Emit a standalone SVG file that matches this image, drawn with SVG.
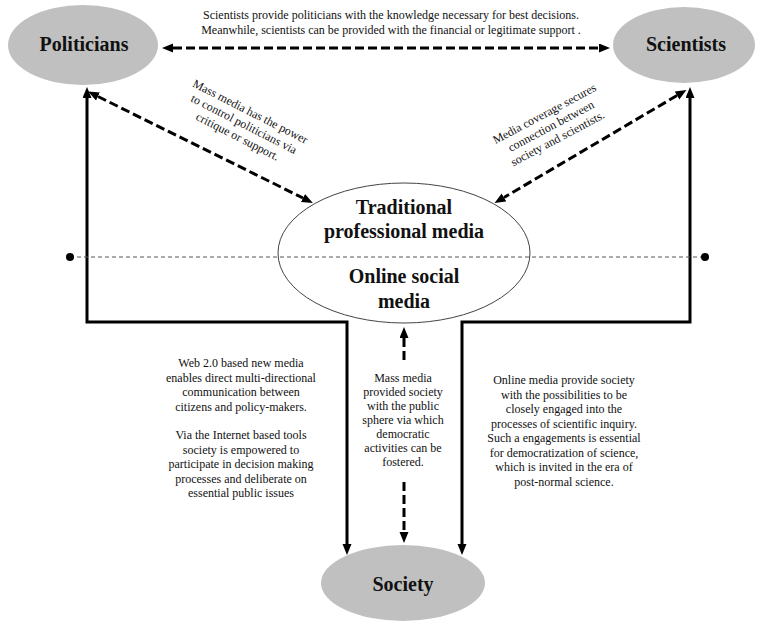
<svg xmlns="http://www.w3.org/2000/svg" width="757" height="621" viewBox="0 0 757 621">
  <style>
    .actor { fill: #c0c0c0; stroke: none; }
    .hub { fill: #ffffff; stroke: #444444; stroke-width: 1; }
    .title { font-weight: bold; font-size: 20px; fill: #111111; text-anchor: middle; }
    .note { font-size: 12px; fill: #111111; text-anchor: middle; }
    .solid { fill: none; stroke: #000000; stroke-width: 3; }
    .dash { fill: none; stroke: #000000; stroke-width: 3; stroke-dasharray: 9 4; }
    .divider { fill: none; stroke: #555555; stroke-width: 1; stroke-dasharray: 4 3; }
  </style>
  <defs>
    <marker id="head" markerUnits="userSpaceOnUse" markerWidth="12" markerHeight="10" refX="0" refY="4.5" orient="auto-start-reverse">
      <path d="M0,0 L11,4.5 L0,9 z" fill="#000000"/>
    </marker>
  </defs>

  <rect width="757" height="621" fill="#ffffff"/>

  <!-- connectors -->
  <g id="connectors">
    <path class="solid" d="M87,98 V322 H347 V544" marker-start="url(#head)" marker-end="url(#head)"/>
    <path class="solid" d="M690,98 V322 H462 V544" marker-start="url(#head)" marker-end="url(#head)"/>
    <path class="dash" d="M173,48 H599" marker-start="url(#head)" marker-end="url(#head)"/>
    <path class="dash" d="M98,96.5 L303,198" marker-start="url(#head)" marker-end="url(#head)"/>
    <path class="dash" d="M677,95.5 L504,197.5" marker-start="url(#head)" marker-end="url(#head)"/>
    <path class="dash" d="M404,360 V338" marker-end="url(#head)"/>
    <path class="dash" d="M404,482 V532" marker-end="url(#head)"/>
  </g>

  <g font-family="Liberation Serif, Times New Roman, DejaVu Serif, serif">
  <!-- top note -->
  <g id="note-top">
    <text class="note" x="391" y="19">Scientists provide politicians  with the knowledge necessary for best decisions.</text>
    <text class="note" x="391" y="34">Meanwhile, scientists can be provided with the financial or legitimate  support .</text>
  </g>

  <g id="note-politicians-media" transform="translate(244,124) rotate(27)">
    <text class="note" x="0" y="-10">Mass media has the power</text>
    <text class="note" x="0" y="4">to control  politicians  via</text>
    <text class="note" x="0" y="18">critique or support.</text>
  </g>

  <g id="note-scientists-media" transform="translate(551,126) rotate(-28)">
    <text class="note" x="0" y="-10">Media coverage secures</text>
    <text class="note" x="0" y="4">connection between</text>
    <text class="note" x="0" y="18">society and scientists.</text>
  </g>

  <!-- nodes -->
  <g id="politicians">
    <ellipse class="actor" cx="83" cy="45" rx="75" ry="40"/>
    <text class="title" x="84" y="51">Politicians</text>
  </g>

  <g id="scientists">
    <ellipse class="actor" cx="684" cy="45" rx="71" ry="38"/>
    <text class="title" x="686" y="51" font-size="20.5">Scientists</text>
  </g>

  <g id="media">
    <ellipse class="hub" cx="404" cy="253" rx="126" ry="70"/>
    <text class="title" x="404" y="214" font-size="18.7">Traditional</text>
    <text class="title" x="404" y="238" font-size="18.7">professional media</text>
    <text class="title" x="404" y="283" font-size="18.7">Online social</text>
    <text class="title" x="404" y="308" font-size="18.7">media</text>
  </g>

  <!-- divider between traditional and online media -->
  <g id="divider">
    <line class="divider" x1="70" y1="257" x2="705" y2="257"/>
    <circle cx="70" cy="257" r="4" fill="#000000"/>
    <circle cx="705" cy="257" r="4" fill="#000000"/>
  </g>

  <g id="society">
    <ellipse class="actor" cx="403" cy="583" rx="82" ry="38"/>
    <text class="title" x="403" y="591" font-size="19.5">Society</text>
  </g>

  <!-- side notes -->
  <g id="note-left">
    <text class="note" x="241" y="367">Web 2.0 based new media</text>
    <text class="note" x="241" y="381.5">enables direct multi-directional</text>
    <text class="note" x="241" y="396">communication between</text>
    <text class="note" x="241" y="410.5">citizens and policy-makers.</text>
    <text class="note" x="241" y="439">Via the Internet based tools</text>
    <text class="note" x="241" y="453.5">society is  empowered to</text>
    <text class="note" x="241" y="468">participate  in decision making</text>
    <text class="note" x="241" y="482.5">processes and deliberate on</text>
    <text class="note" x="241" y="497">essential public issues</text>
  </g>

  <g id="note-middle">
    <text class="note" x="403" y="382">Mass media</text>
    <text class="note" x="403" y="396">provided society</text>
    <text class="note" x="403" y="410">with the public</text>
    <text class="note" x="403" y="424">sphere via which</text>
    <text class="note" x="403" y="438">democratic</text>
    <text class="note" x="403" y="452">activities can be</text>
    <text class="note" x="403" y="466">fostered.</text>
  </g>

  <g id="note-right">
    <text class="note" x="564" y="384">Online media provide society</text>
    <text class="note" x="564" y="398.5">with the possibilities to be</text>
    <text class="note" x="564" y="413">closely engaged into the</text>
    <text class="note" x="564" y="427.5">processes of scientific  inquiry.</text>
    <text class="note" x="564" y="442">Such a engagements  is essential</text>
    <text class="note" x="564" y="456.5">for democratization  of science,</text>
    <text class="note" x="564" y="471">which is invited  in the era of</text>
    <text class="note" x="564" y="485.5">post-normal science.</text>
  </g>
  </g>
</svg>
